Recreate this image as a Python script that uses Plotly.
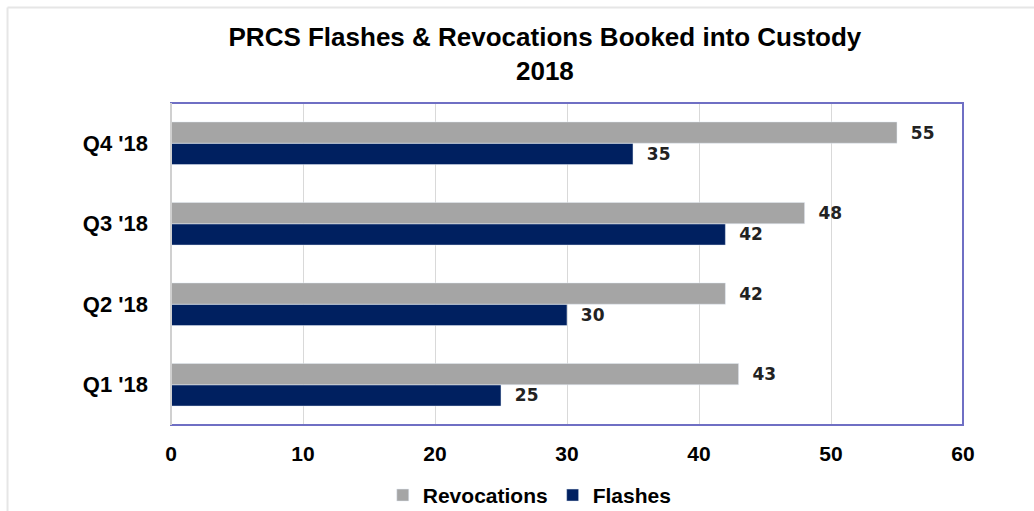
import plotly.graph_objects as go

categories = ["Q1 '18", "Q2 '18", "Q3 '18", "Q4 '18"]
revocations = [43, 42, 48, 55]
flashes = [25, 30, 42, 35]
x_ticks = [0, 10, 20, 30, 40, 50, 60]

FONT = "Liberation Sans, Arial, sans-serif"
LABEL_FONT = dict(family="DejaVu Sans, sans-serif", size=17, color="#222222")

fig = go.Figure()
fig.add_trace(go.Bar(
    y=categories, x=flashes, orientation="h", name="<b>Flashes</b>",
    marker=dict(color="#002060"),
    texttemplate="  <b>%{x}</b>", textposition="outside", cliponaxis=False,
    textfont=LABEL_FONT,
    legendrank=2,
))
fig.add_trace(go.Bar(
    y=categories, x=revocations, orientation="h", name="<b>Revocations</b>",
    marker=dict(color="#a5a5a5"),
    texttemplate="  <b>%{x}</b>", textposition="outside", cliponaxis=False,
    textfont=LABEL_FONT,
    legendrank=1,
))

fig.update_layout(
    width=1034, height=511,
    paper_bgcolor="white", plot_bgcolor="white",
    barmode="group", bargap=0.47, bargroupgap=0.0,
    margin=dict(l=171, r=71, t=103, b=86, autoexpand=False),
    title=dict(
        text="<b>PRCS Flashes & Revocations Booked into Custody<br>2018</b>",
        x=0.527, xanchor="center", y=0.91, yanchor="top",
        font=dict(family=FONT, size=26, color="black"),
    ),
    xaxis=dict(
        range=[0, 60], tickvals=x_ticks, ticktext=[f"<b>{v}</b>" for v in x_ticks],
        showgrid=True, gridcolor="#d9d9d9", gridwidth=1,
        zeroline=False, showline=False, automargin=False,
        tickfont=dict(family=FONT, size=21, color="black"),
        ticks="", ticklabelstandoff=14,
    ),
    yaxis=dict(
        tickvals=categories, ticktext=[f"<b>{c}</b>" for c in categories],
        showgrid=False, zeroline=False, showline=False, automargin=False,
        tickfont=dict(family=FONT, size=22, color="black"),
        ticks="", ticklabelstandoff=22,
    ),
    legend=dict(
        orientation="h", x=0.453, xanchor="center", y=-0.155, yanchor="top",
        font=dict(family=FONT, size=21, color="black"),
        traceorder="normal",
    ),
    shapes=[
        dict(type="rect", xref="paper", yref="paper", x0=0, x1=1, y0=0, y1=1,
             line=dict(color="#6f6fc4", width=2), fillcolor="rgba(0,0,0,0)", layer="above"),
        dict(type="line", xref="paper", yref="paper", x0=0, x1=0, y0=0, y1=1,
             line=dict(color="#d0d0d0", width=2), layer="above"),
        # outer chart frame (light gray, top and left edges visible)
        dict(type="line", xref="paper", yref="paper", x0=-0.2064, x1=1.2, y0=1.2966, y1=1.2966,
             line=dict(color="#e6e6e6", width=2), layer="above"),
        dict(type="line", xref="paper", yref="paper", x0=-0.2064, x1=-0.2064, y0=-0.4, y1=1.2966,
             line=dict(color="#e6e6e6", width=2), layer="above"),
    ],
)

fig.write_html("out.html", config={"displayModeBar": False},
               post_script="document.body.style.margin='0';")
